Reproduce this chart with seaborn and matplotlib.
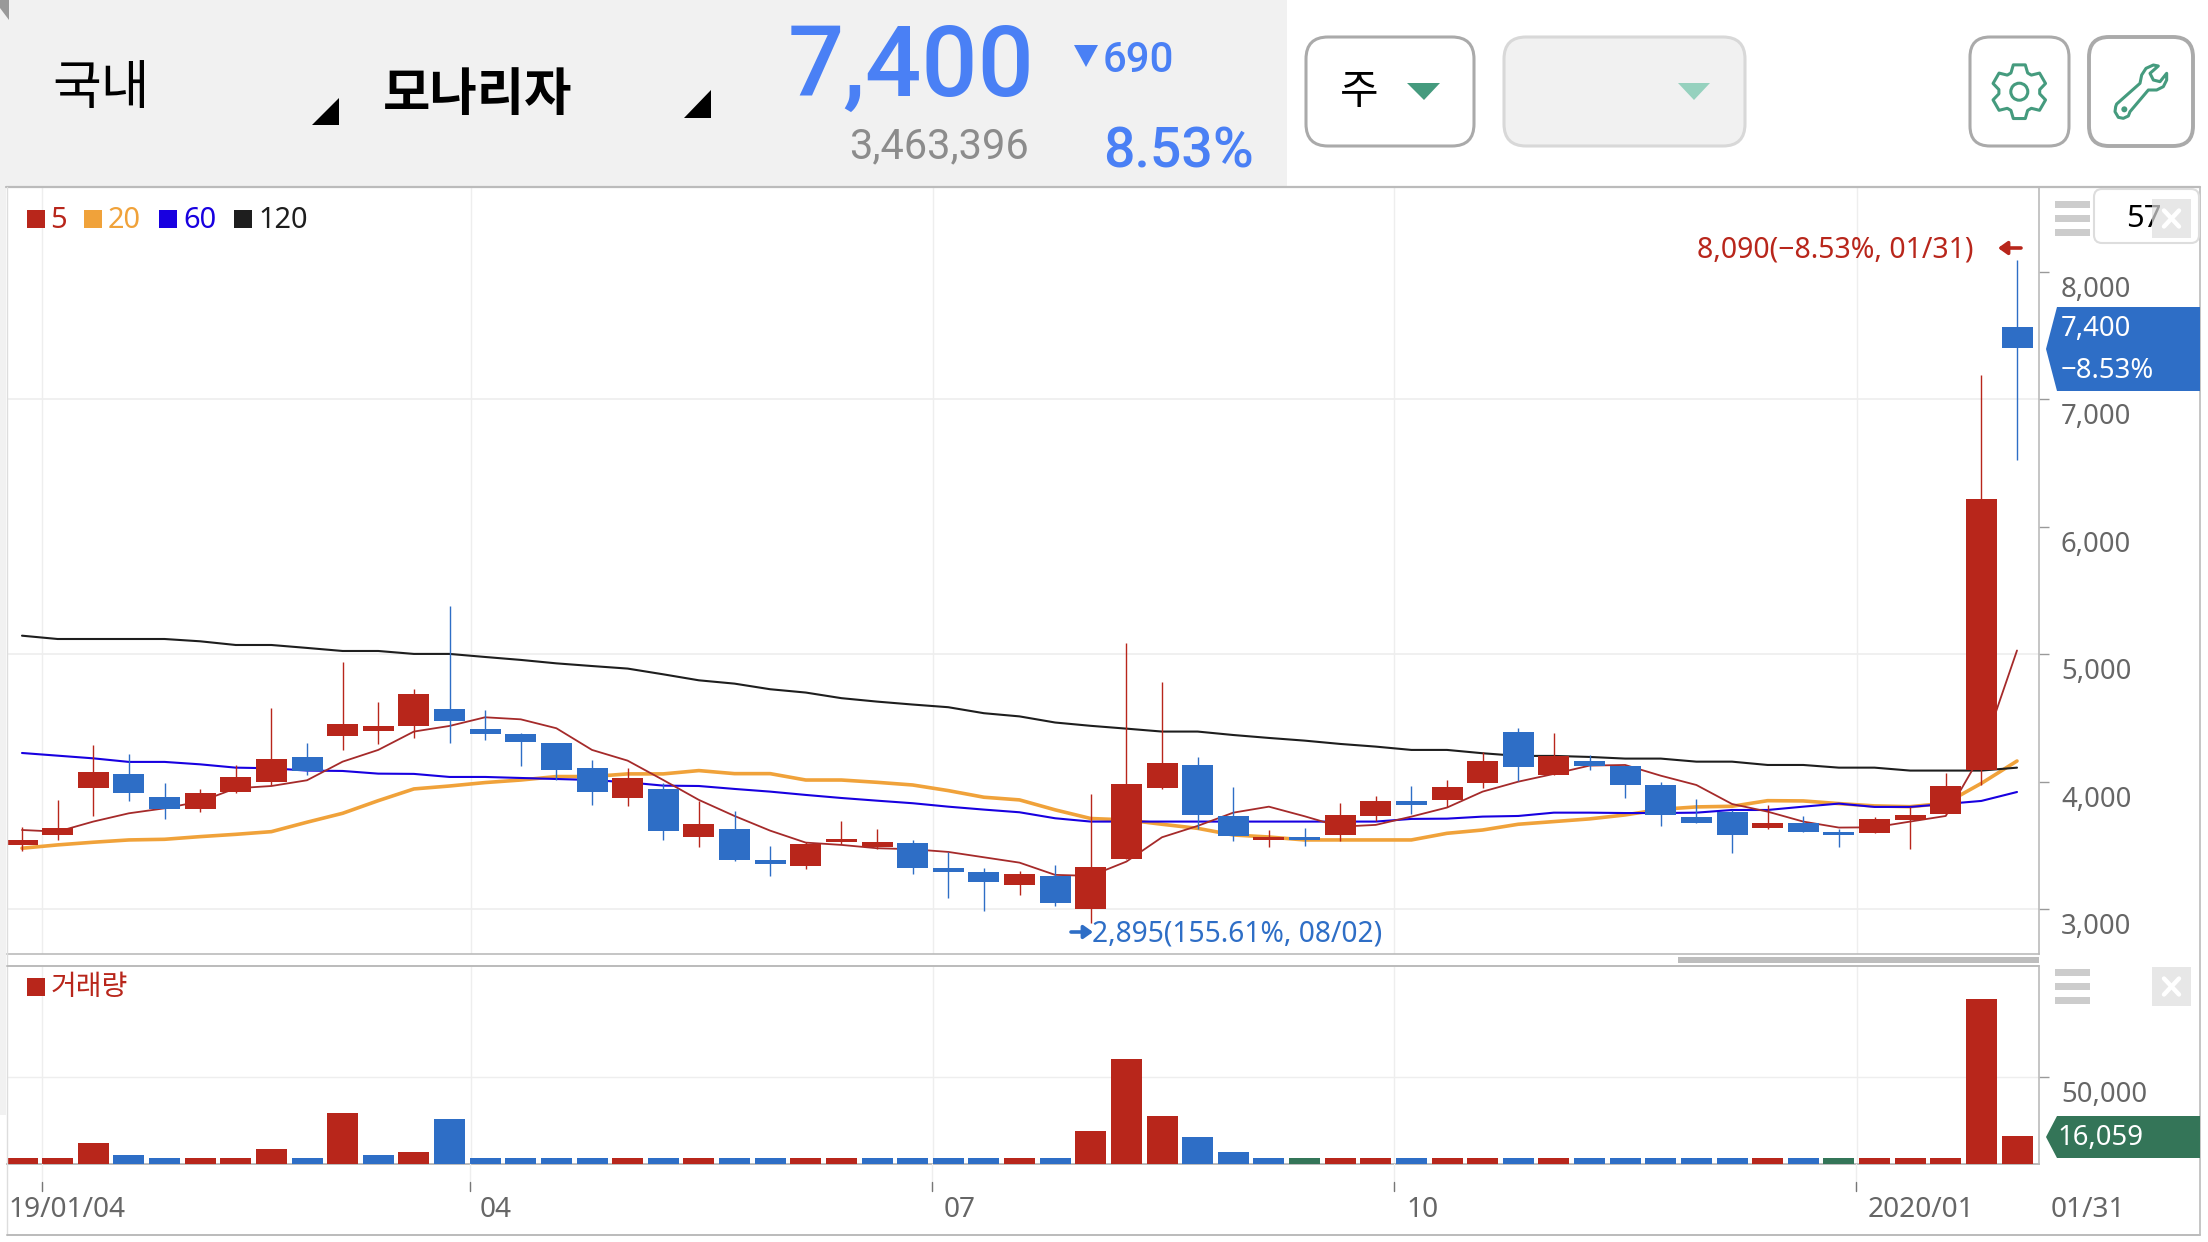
import numpy as np
import pandas as pd
import matplotlib
matplotlib.use("Agg")
import matplotlib.pyplot as plt
from matplotlib.patches import Polygon, FancyBboxPatch, Rectangle, Circle
import seaborn as sns

opens  = [3505,3583,3954,4062,3881,3787,3920,3999,4195,4360,4399,4438,4571,4414,4375,4305,4109,3873,3944,3567,3630,3387,3340,3528,3486,3520,3324,3293,3191,3262,3003,3398,3954,4132,3732,3544,3567,3583,3732,3850,3858,3991,4391,4054,4164,4124,3975,3724,3764,3638,3677,3607,3601,3701,3750,4093,7568]
closes = [3544,3638,4077,3915,3787,3913,4038,4179,4088,4454,4438,4689,4477,4375,4313,4093,3920,4030,3617,3669,3387,3356,3513,3549,3528,3324,3293,3215,3277,3050,3332,3983,4148,3740,3575,3567,3541,3740,3850,3818,3960,4164,4119,4203,4124,3978,3743,3680,3586,3677,3607,3586,3709,3740,3967,6221,7400]
highs  = [3643,3858,4289,4218,3991,3944,4130,4579,4305,4940,4626,4728,5379,4563,4380,4305,4171,4109,3988,3850,3771,3497,3531,3693,3630,3544,3452,3322,3301,3348,3905,5089,4783,4195,3960,3622,3638,3834,3889,3967,4015,4234,4422,4383,4211,4124,3996,3866,3779,3818,3732,3630,3722,3800,4067,7190,8090]
lows   = [3460,3544,3732,3852,3709,3764,3913,3973,4056,4250,4297,4344,4305,4328,4124,4015,3821,3811,3544,3492,3379,3264,3319,3513,3476,3277,3092,2987,3113,3026,2895,3398,3947,3630,3539,3489,3497,3536,3690,3748,3805,3952,4007,4054,4093,3873,3656,3680,3445,3628,3607,3492,3601,3476,3750,3975,6521]
ma5    = [3622,3609,3688,3753,3792,3845,3949,3967,4012,4158,4250,4394,4438,4506,4490,4420,4250,4166,4014,3858,3732,3617,3523,3505,3479,3471,3450,3408,3366,3270,3262,3374,3565,3654,3758,3805,3730,3648,3662,3727,3798,3923,4001,4062,4127,4132,4048,3975,3826,3766,3688,3641,3643,3688,3732,4216,5030]
ma20   = [3479,3505,3526,3544,3549,3570,3588,3609,3683,3753,3852,3944,3967,3994,4014,4041,4041,4062,4062,4088,4064,4064,4014,4014,3996,3975,3931,3879,3858,3780,3712,3701,3667,3635,3583,3567,3544,3544,3544,3544,3596,3622,3667,3688,3709,3740,3784,3803,3808,3852,3850,3829,3811,3805,3832,3988,4163]
ma60   = [4226,4205,4184,4156,4156,4137,4111,4106,4088,4085,4064,4062,4038,4038,4030,4022,4014,3996,3970,3967,3944,3923,3897,3873,3852,3832,3805,3782,3761,3714,3688,3688,3688,3688,3688,3688,3688,3688,3688,3709,3711,3727,3732,3758,3758,3755,3755,3758,3779,3779,3805,3829,3803,3803,3826,3850,3920]
ma120  = [5146,5120,5120,5120,5120,5102,5073,5073,5050,5026,5026,5003,5003,4979,4956,4929,4908,4888,4843,4796,4770,4726,4700,4656,4629,4606,4585,4538,4513,4465,4439,4417,4394,4394,4367,4344,4323,4297,4276,4250,4250,4224,4203,4203,4195,4182,4182,4158,4158,4132,4132,4111,4111,4088,4088,4088,4111]
volumes = [3461,3461,12115,5192,3461,3461,3461,8654,3461,29422,5192,6923,25961,3461,3461,3461,3461,3461,3461,3461,3461,3461,3461,3461,3461,3461,3461,3461,3461,3461,19038,60575,27692,15576,6923,3461,3461,3461,3461,3461,3461,3461,3461,3461,3461,3461,3461,3461,3461,3461,3461,3461,3461,3461,3461,95188,16059]
vol_dirs = list("rrrbbrrrbrbrbbbbbrbrbbrrbbbbrbrrrbbbgrrbrrbrbbbbbrbgrrrrr")
price_ticks = [3000,4000,5000,6000,7000,8000]
price_labels = ["3,000","4,000","5,000","6,000","7,000","8,000"]
price_grid = [3000,5000,7000]
month_ticks = [0.55,12.6,25.57,38.5,51.5]
month_labels = ["19/01/04","04","07","10","2020/01","01/31"]

RED="#B8261B"; BLUE="#2E6EC6"; ORANGE="#F0A23A"; NAVY="#1800E0"; BLACK="#1E1E1E"; BROWN="#A52A2A"
HEAD="#4A80F5"; GREEN="#459B7E"; GRID="#EEEEEE"; LINE="#BBBBBB"; GREY="#666666"

sns.set_theme(style="white")
plt.rcParams["font.family"] = ["Noto Sans","Noto Sans CJK KR","DejaVu Sans"]
W,H=2208,1242
fig=plt.figure(figsize=(W/100,H/100),dpi=100,facecolor="white")
def rect(l,t,r,b): return [l/W,1-b/H,(r-l)/W,(b-t)/H]
L,R=7,2039
PX0,PXS=22,35.625
ax=fig.add_axes(rect(L,187,R,954),zorder=1)
vx=fig.add_axes(rect(L,966,R,1164),zorder=1)
ov=fig.add_axes([0,0,1,1],zorder=2); ov.set_xlim(0,W); ov.set_ylim(H,0); ov.axis("off"); ov.patch.set_alpha(0)

idx=np.arange(len(opens))
df=pd.DataFrame(dict(i=idx,o=opens,c=closes,h=highs,l=lows,m5=ma5,m20=ma20,m60=ma60,m120=ma120,v=volumes,d=vol_dirs))
for col,c,lw in [("m20",ORANGE,2.6),("m120",BLACK,1.5),("m60",NAVY,1.5),("m5",BROWN,1.3)]:
    sns.lineplot(data=df,x="i",y=col,color=c,lw=lw,ax=ax,errorbar=None,legend=False,zorder=2)
up=df.c>=df.o
cols=np.where(up,RED,BLUE)
ax.vlines(df.i,df.l,df.h,colors=cols,lw=1.0,zorder=3)
ax.bar(df.i,(df.c-df.o).abs(),bottom=df[["o","c"]].min(axis=1),width=31/PXS,color=cols,zorder=4,linewidth=0)
xl=((L-PX0)/PXS,(R-PX0)/PXS)
val=lambda px:5000+(654.3-px)/.1275
ax.set_xlim(*xl); ax.set_ylim(val(954),val(187))
ax.set_xticks(month_ticks); ax.set_yticks(price_ticks)
ax.set_xlabel(""); ax.set_ylabel("")
ax.tick_params(axis="x",length=0,labelbottom=False)
ax.tick_params(axis="y",left=False,right=True,length=7,width=1,color="#999999",labelleft=False)
ax.grid(True,axis="x",color=GRID,lw=1); ax.set_axisbelow(True)
ax.hlines(price_grid,*xl,color=GRID,lw=1.2,zorder=0.5)
for s in ["top","left"]: ax.spines[s].set_visible(False)
ax.spines["right"].set_color(LINE); ax.spines["bottom"].set_color(LINE)
ax.spines["right"].set_linewidth(1.2); ax.spines["bottom"].set_linewidth(1.2)

sns.barplot(data=df,x="i",y="v",hue="d",palette={"r":RED,"b":BLUE,"g":"#347558"},native_scale=True,dodge=False,
            width=31/PXS,gap=0,saturation=1,legend=False,ax=vx,zorder=3,linewidth=0,errorbar=None)
vx.set_xlim(*xl); vx.set_ylim(0,(1164-966)/86.7*50000)
vx.set_xticks(month_ticks); vx.set_yticks([50000])
vx.set_xlabel(""); vx.set_ylabel("")
vx.tick_params(axis="x",length=0,labelbottom=False)
vx.tick_params(axis="y",left=False,right=True,length=7,width=1,color="#999999",labelleft=False)
vx.grid(True,color=GRID,lw=1); vx.set_axisbelow(True)
for s in ["top","left"]: vx.spines[s].set_visible(False)
vx.spines["right"].set_color(LINE); vx.spines["bottom"].set_color(LINE)
vx.spines["right"].set_linewidth(1.2); vx.spines["bottom"].set_linewidth(1.4)

def T(x,y,s,px,color,ha="left",family=None,weight="normal"):
    kw={} if family is None else {"family":family}
    ov.text(x,y,s,fontsize=px*.72,color=color,ha=ha,va="baseline",weight=weight,**kw)
def P(pts,fc,ec="none",lw=0,z=3): ov.add_patch(Polygon(pts,closed=True,fc=fc,ec=ec,lw=lw,zorder=z,joinstyle="round"))
def box(x0,y0,x1,y1,r,fc,ec,lw):
    ov.add_patch(FancyBboxPatch((x0+r,y0+r),x1-x0-2*r,y1-y0-2*r,boxstyle=f"round,pad={r}",fc=fc,ec=ec,lw=lw,zorder=2))
def R_(x0,y0,x1,y1,fc,z=2): ov.add_patch(Rectangle((x0,y0),x1-x0,y1-y0,fc=fc,ec="none",zorder=z))
def arrow(x0,x1,y,c):
    ov.annotate("",xy=(x1,y),xytext=(x0,y),arrowprops=dict(arrowstyle="-|>,head_length=0.45,head_width=0.32",color=c,lw=2.6,shrinkA=0,shrinkB=0),zorder=4)

# header
R_(0,0,1287,187,"#F1F1F1")
P([(0,0),(9,0),(9,20),(0,8)],"#999999")
R_(0,187,6,1115,"#F1F1F1")
kr=["Noto Sans CJK KR","DejaVu Sans"]
T(52,104,"국내",53,"black",family=kr)
T(383,110,"모나리자",51.5,"black",family=kr,weight="bold")
P([(339,98),(339,125),(312,125)],"black")
P([(711,90),(711,118),(684,118)],"black")
T(788,96,"7,400",99,HEAD,family="Roboto",weight="medium")
P([(1074,45),(1098,45),(1086,67)],HEAD)
T(1103,72,"690",42,HEAD,family="Roboto",weight="medium")
T(849,158,"3,463,396",41.5,"#8C8C8C",family="Roboto")
T(1103,168,"8.53%",55.5,HEAD,family="Roboto",weight="medium")
# buttons
box(1306,37,1474,146,22,"white","#AAAAAA",2.2)
box(1504,37,1745,146,22,"#F1F1F1","#D8D8D8",2.2)
box(1970,37,2069,146,20,"white","#AAAAAA",2.2)
box(2089,37,2193,146,20,"white","#AAAAAA",2.8)
T(1359,104,"주",42,"black",ha="center",family=kr)
P([(1407,83),(1440,83),(1424,100)],GREEN)
P([(1678,83),(1710,83),(1694,100)],"#96D1BE")
# gear
cx,cy=2019.3,91.7
ang=np.deg2rad(np.arange(-90,270,60))
pts=[]
for a in ang:
    for da,rr in [(-.42,20.5),(-.22,27.5),(.22,27.5),(.42,20.5)]:
        pts.append((cx+rr*np.cos(a+da),cy+rr*np.sin(a+da)))
P(pts,"white",GREEN,2.2)
ov.add_patch(Circle((cx,cy),8.5,fc="white",ec=GREEN,lw=2.2,zorder=4))
# wrench
wr=[(470,222),(540,160),(545,135),(558,115),(580,105),(595,108),(570,130),(580,150),(600,155),(620,130),(620,150),(610,170),(590,180),(565,180),(510,245),(505,258),(490,265),(475,262),(465,245),(467,230)]
P([(1960+a/3,30+b/3) for a,b in wr],"white",GREEN,2.2)
ov.add_patch(Circle((1960+493/3,30+238/3),3,fc=GREEN,ec="none",zorder=4))

# frame
ov.plot([6,2200],[187,187],color=LINE,lw=1.6)
ov.plot([2200,2200],[187,1235],color=LINE,lw=1.2)
ov.plot([7,7],[187,1235],color="#DDDDDD",lw=1)
ov.plot([7,2200],[1235,1235],color=LINE,lw=1.4)
ov.plot([7,2039],[966,966],color=LINE,lw=1.4)
R_(1678,957,2039,963,"#BDBDBD")
for p in [41.5,470.4,932.4,1394,1856]:
    ov.plot([p,p],[1164,1191],color=GRID,lw=1,zorder=1)
    ov.plot([p,p],[1182,1191],color="#777777",lw=1,zorder=1)
# legend
for x,c,s,tx in [(27,RED,"5",50),(84,ORANGE,"20",108),(159,NAVY,"60",183),(234,BLACK,"120",258)]:
    R_(x,210,x+18,228,c)
    T(tx,228,s,29,c)
R_(27,978,45,996,RED)
T(51,995,"거래량",28,RED,family=kr)
# right labels
for v,s in zip(price_ticks,price_labels):
    T(2061,654.3+(5000-v)*.1275+25,s,27.5,GREY)
T(2061,1102,"50,000",27.5,GREY)
P([(2057,307),(2200,307),(2200,391),(2057,391),(2046,349)],BLUE)
T(2061,336,"7,400",27.5,"white")
T(2061,378,"\u22128.53%",27.5,"white")
P([(2057,1116),(2200,1116),(2200,1158),(2057,1158),(2046,1137)],"#347558")
T(2058,1145,"16,059",27.5,"white")
for s,x in zip(month_labels,[8,480,944,1406,1868,2051]):
    T(x,1217,s,28,GREY)
# annotations
T(1697,257,"8,090(\u22128.53%, 01/31)",28.4,RED)
arrow(2021,1998,248,RED)
arrow(1071,1093,932,BLUE)
T(1092,941,"2,895(155.61%, 08/02)",28.2,BLUE)
# controls
box(2094,189,2199,243,8,"white","#DDDDDD",1.5)
T(2126,227,"57",31,"black")
for ys in [(201,208),(215,222),(229,236),(969,976),(983,990),(997,1004)]:
    R_(2055,ys[0],2090,ys[1],"#CCCCCC")
for y0,y1 in [(199,238),(967,1006)]:
    ov.add_patch(Rectangle((2152,y0),39,y1-y0,fc="#DDDDDD",alpha=.7,ec="none",zorder=5))
    ov.plot([2164,2179],[(y0+y1)/2-8,(y0+y1)/2+8],color="white",lw=3.2,zorder=6)
    ov.plot([2164,2179],[(y0+y1)/2+8,(y0+y1)/2-8],color="white",lw=3.2,zorder=6)
ov.set_xlim(0,W); ov.set_ylim(H,0)
fig.savefig("out.png",dpi=100)
